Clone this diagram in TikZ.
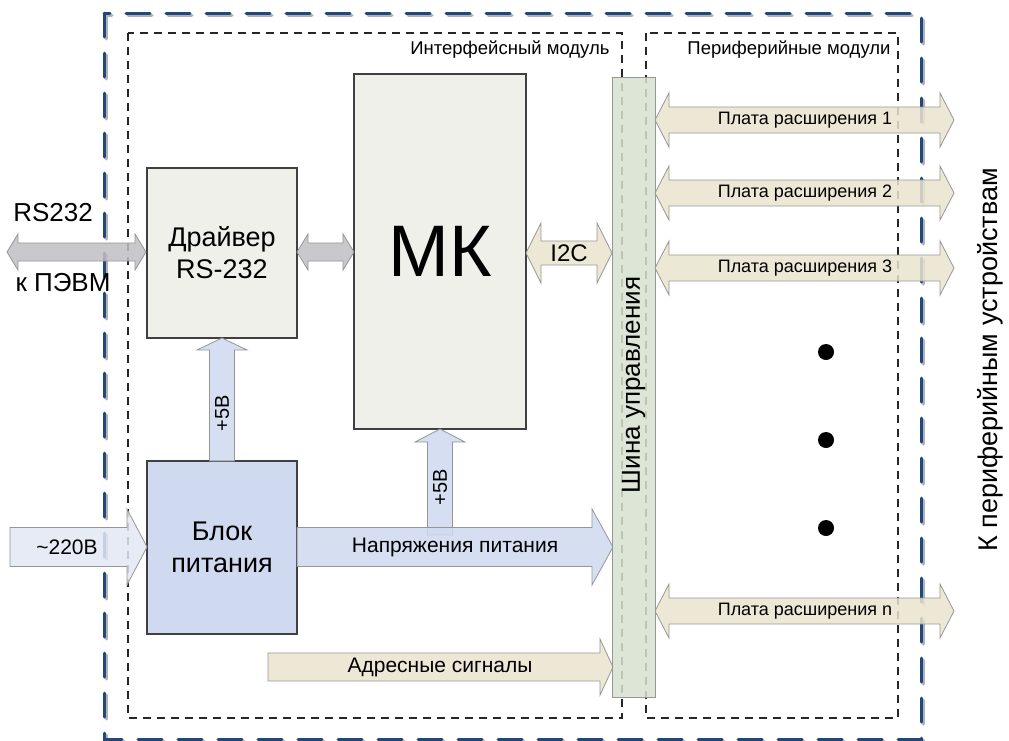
\documentclass[tikz,border=0pt]{standalone}
\usepackage{fontspec}
\setmainfont{Liberation Sans}
\definecolor{bluedash}{RGB}{31,73,125}
\definecolor{drvfill}{RGB}{238,240,233}
\definecolor{blkfill}{RGB}{207,218,240}
\definecolor{inpfill}{RGB}{226,232,245}
\definecolor{beige}{RGB}{235,229,207}
\definecolor{busfill}{RGB}{216,226,207}
\definecolor{greyarr}{RGB}{192,192,197}
\definecolor{arrline}{RGB}{150,150,150}
\definecolor{boxline}{RGB}{64,64,64}
% double horizontal arrow: style, x1, x2, y, shaft half, head half, head length
\newcommand\dharrow[7]{%
  \path[#1] (#2,#4) -- (#2+#7,#4-#6) -- (#2+#7,#4-#5) -- (#3-#7,#4-#5) -- (#3-#7,#4-#6)
    -- (#3,#4) -- (#3-#7,#4+#6) -- (#3-#7,#4+#5) -- (#2+#7,#4+#5) -- (#2+#7,#4+#6) -- cycle;}
% single right arrow
\newcommand\rharrow[7]{%
  \path[#1] (#2,#4-#5) -- (#3-#7,#4-#5) -- (#3-#7,#4-#6) -- (#3,#4) -- (#3-#7,#4+#6)
    -- (#3-#7,#4+#5) -- (#2,#4+#5) -- cycle;}
% single up arrow: style, x, ybottom, ytip, shaft half, head half, head length
\newcommand\uparrowb[7]{%
  \path[#1] (#2-#5,#3) -- (#2-#5,#4+#7) -- (#2-#6,#4+#7) -- (#2,#4) -- (#2+#6,#4+#7)
    -- (#2+#5,#4+#7) -- (#2+#5,#3) -- cycle;}
\tikzset{
  box/.style={draw=boxline, line width=1.6pt, align=center, inner sep=0pt},
  arr/.style={draw=arrline, line width=0.8pt, fill opacity=0.85},
  frame/.style={draw=black!85, line width=1.2pt, dash pattern=on 8pt off 6pt},
  bluefr/.style={draw=bluedash, line width=3pt, line cap=round, dash pattern=on 24pt off 16pt},
  shadowfr/.style={draw=black!30, line width=3pt, line cap=round, dash pattern=on 24pt off 16pt},
}
\begin{document}
\begin{tikzpicture}[x=1pt, y=-1pt]
\useasboundingbox (0,0) rectangle (1009,740);
\fill[white] (0,0) rectangle (1009,740);
% frames
\draw[shadowfr] (106,15) rectangle (923,741);
\draw[bluefr] (104,13) rectangle (921,739);
\draw[frame] (128,33) rectangle (622,718);
\draw[frame] (646,33) rectangle (898,718);
\node[font=\fontsize{18.5}{22}\selectfont, anchor=east] (lblif) at (613,50) {Интерфейсный модуль};
\node[font=\fontsize{18.5}{22}\selectfont, anchor=east] (lblper) at (894,50) {Периферийные модули};
% boxes
\node[box, fill=drvfill, minimum width=150pt, minimum height=170pt, font=\fontsize{27}{32}\selectfont] (drv) at (222,253) {Драйвер\\RS-232};
\node[box, fill=drvfill, minimum width=172pt, minimum height=355pt, font=\fontsize{73}{80}\selectfont] (mk) at (440,251.5) {МК};
\node[box, fill=blkfill, minimum width=150pt, minimum height=173pt, font=\fontsize{27}{32}\selectfont] (blk) at (222,547.5) {Блок\\питания};
% arrows
\dharrow{arr, fill=greyarr}{7}{146}{252}{9}{18}{11}
\dharrow{arr, fill=greyarr}{297}{354}{252}{9}{18}{11}
\node[font=\fontsize{26}{30}\selectfont] (rs) at (53,213) {RS232};
\node[font=\fontsize{26}{30}\selectfont] (pc) at (63,283) {к ПЭВМ};
\uparrowb{arr, fill=blkfill}{222}{461}{338}{12.5}{25}{12}
\node[font=\fontsize{20}{24}\selectfont, rotate=90] (v1) at (222,413) {+5В};
\uparrowb{arr, fill=blkfill}{440}{535}{429}{12.5}{25}{13}
\node[font=\fontsize{20}{24}\selectfont, rotate=90] (v2) at (440,487) {+5В};
\rharrow{arr, fill=inpfill}{10}{147}{547}{19.5}{38}{20}
\node[font=\fontsize{21}{25}\selectfont] (ac) at (67,547) {\textasciitilde220В};
\rharrow{arr, fill=blkfill}{297}{613}{547}{19.5}{38}{21}
\node[font=\fontsize{21}{25}\selectfont] (np) at (455,547) {Напряжения питания};
\rharrow{arr, fill=beige}{268}{613}{667}{14}{28}{13}
\node[font=\fontsize{21}{25}\selectfont] (adr) at (440,667) {Адресные сигналы};
% bus
\node[draw=arrline, line width=1pt, fill=busfill, fill opacity=0.85, text opacity=1, minimum width=43pt, minimum height=620pt, inner sep=0pt] (bus) at (633.5,387) {};
\node[font=\fontsize{26}{30}\selectfont, rotate=90] (buslbl) at (bus.center |- 0,385) {Шина управления};
\dharrow{arr, fill=beige}{526}{612}{253}{12}{30}{15}
\node[font=\fontsize{24}{28}\selectfont] (i2c) at (569,253) {I2C};
% expansion boards
\foreach \yy/\tt in {120/1, 193/2, 268/3, 611/n}{
  \dharrow{arr, fill=beige}{655}{954}{\yy}{13}{27}{14}
  \node[font=\fontsize{18}{21}\selectfont] (pl\tt) at (805,\yy) {Плата расширения \tt};
}
\foreach \yy/\nn in {352/a, 440/b, 528/c}{
  \fill (826,\yy) circle (8pt) coordinate (dot\nn);
}
\node[font=\fontsize{27}{31}\selectfont, rotate=90] (ext) at (990,360) {К периферийным устройствам};
\end{tikzpicture}
\end{document}
